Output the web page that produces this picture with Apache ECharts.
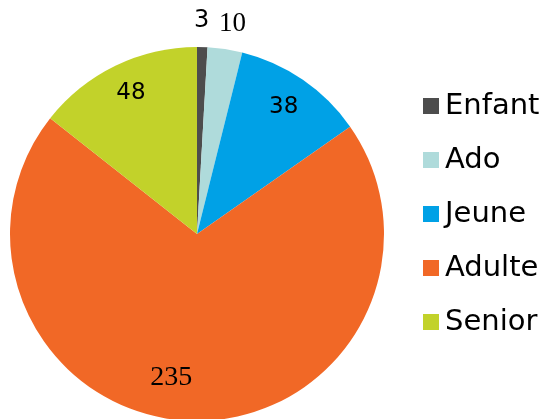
<!DOCTYPE html>
<html>
<head>
<meta charset="utf-8">
<script src="https://cdn.jsdelivr.net/npm/echarts@6/dist/echarts.min.js"></script>
<style>
  html, body { margin: 0; padding: 0; background: #fff; }
  #chart { width: 550px; height: 419px; }
</style>
</head>
<body>
<div id="chart"></div>
<script>
var categories = ["Enfant", "Ado", "Jeune", "Adulte", "Senior"];
var counts = [3, 10, 38, 235, 48];
var colors = ["#4d4d4d", "#afdbdb", "#00a1e6", "#f16826", "#c2d22a"];

// where each value label sits, nudged from the default inside spot
var labelOffsets = [[2, -117], [21, -115], [32, -47], [-23, 47], [-24, -54]];
var labelFonts = ["DejaVu Sans", "Liberation Serif", "DejaVu Sans", "Liberation Serif", "DejaVu Sans"];
var labelSizes = [24, 27, 23, 28, 23];

var chart = echarts.init(document.getElementById("chart"));

chart.setOption({
  animation: false,
  legend: {
    orient: "vertical",
    left: 418,
    top: 86,
    icon: "rect",
    itemWidth: 16,
    itemHeight: 16,
    itemGap: 24,
    textStyle: {
      fontFamily: "DejaVu Sans",
      fontSize: 29,
      color: "#000",
      lineHeight: 30,
      padding: [0, 0, 0, 1]
    },
    data: categories
  },
  series: [
    {
      type: "pie",
      center: [197, 234],
      radius: 187,
      startAngle: 90,
      clockwise: true,
      label: {
        show: true,
        position: "inside",
        color: "#000",
        formatter: "{c}"
      },
      labelLine: { show: false },
      emphasis: { disabled: true },
      data: categories.map(function (name, i) {
        return {
          name: name,
          value: counts[i],
          itemStyle: { color: colors[i] },
          label: {
            offset: labelOffsets[i],
            fontFamily: labelFonts[i],
            fontSize: labelSizes[i]
          }
        };
      })
    }
  ]
});
</script>
</body>
</html>
